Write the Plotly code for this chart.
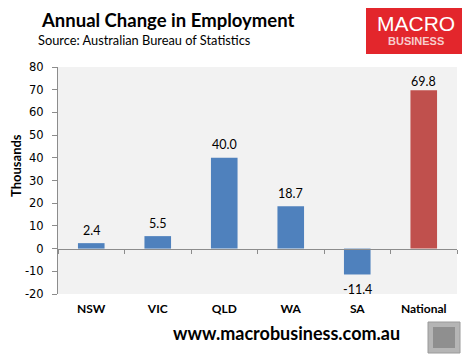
import plotly.graph_objects as go

categories = ["NSW", "VIC", "QLD", "WA", "SA", "National"]
values = [2.4, 5.5, 40.0, 18.7, -11.4, 69.8]
bar_colors = ["#4f81bd"] * 5 + ["#c0504d"]
tick_vals = [-20, -10, 0, 10, 20, 30, 40, 50, 60, 70, 80]
tick_text = [str(v) for v in tick_vals]  # hyphen-minus like the source
y_min, y_max = -20, 80

# browser body margin shifts the figure by 8px
OFF = 8
FW, FH = 470 - OFF, 363 - OFF
L, R, T, B = 50, 13, 59, 69
PW, PH = FW - L - R, FH - T - B


def px(sx):
    return (sx - OFF - L) / PW


def py(sy):
    return (FH - B - (sy - OFF)) / PH


unit = PH / (y_max - y_min)

fig = go.Figure()
fig.add_trace(go.Bar(
    x=categories, y=values, marker=dict(color=bar_colors, line=dict(width=0)),
    width=0.4, hoverinfo="x+y",
))
# invisible helper trace for the zero-line axis with boundary ticks
fig.add_trace(go.Scatter(
    x=categories, y=values, xaxis="x2", mode="markers",
    marker=dict(opacity=0), hoverinfo="skip", showlegend=False,
))

annotations = []
for c, v in zip(categories, values):
    if v >= 0:
        shift = min(13, (y_max - v) * unit - 15)
    else:
        shift = -15
    annotations.append(dict(
        x=c, y=v, xref="x", yref="y", text=f"{v:.1f}", showarrow=False,
        yshift=shift, xanchor="center", yanchor="middle",
        font=dict(family="Lato, sans-serif", size=12.5, color="#000"),
    ))

annotations += [
    dict(text="<b>Annual Change in Employment</b>", xref="paper", yref="paper",
         x=px(39), y=py(20), xanchor="left", yanchor="middle",
         showarrow=False, font=dict(family="Lato, sans-serif", size=18.5, color="#000")),
    dict(text="Source: Australian Bureau of Statistics", xref="paper", yref="paper",
         x=px(36), y=py(40), xanchor="left", yanchor="middle",
         showarrow=False, font=dict(family="Lato, sans-serif", size=12.8, color="#000")),
    dict(text="MACRO", xref="paper", yref="paper",
         x=px(416), y=py(23), xanchor="center", yanchor="middle",
         showarrow=False, font=dict(family="Liberation Sans, sans-serif", size=21, color="#ffffff")),
    dict(text="BUSINESS", xref="paper", yref="paper",
         x=px(416), y=py(41), xanchor="center", yanchor="middle",
         showarrow=False, font=dict(family="Liberation Sans, sans-serif", size=11, color="#f7cccc", weight="bold")),
    dict(text="<b>www.macrobusiness.com.au</b>", xref="paper", yref="paper",
         x=px(286), y=py(333), xanchor="center", yanchor="middle",
         showarrow=False, font=dict(family="Lato, sans-serif", size=18, color="#000")),
    dict(text="<b>Thousands</b>", xref="paper", yref="paper",
         x=px(16), y=py(166), xanchor="center", yanchor="middle", textangle=-90,
         showarrow=False, font=dict(family="Lato, sans-serif", size=13, color="#000")),
]

fig.update_layout(
    width=FW, height=FH,
    margin=dict(l=L, r=R, t=T, b=B),
    paper_bgcolor="white", plot_bgcolor="#f2f2f2",
    showlegend=False,
    font=dict(family="Lato, sans-serif", color="#000"),
    xaxis=dict(
        showline=False, ticks="", showgrid=False,
        tickfont=dict(family="Lato, sans-serif", size=12, color="#000", weight="bold"),
        ticklabelstandoff=6,
    ),
    xaxis2=dict(
        overlaying="x", matches="x", anchor="free",
        position=(0 - y_min) / (y_max - y_min),
        showticklabels=False, showgrid=False, tickson="boundaries",
        ticks="outside", ticklen=4, tickcolor="#8c8c8c",
        showline=True, linecolor="#8c8c8c", linewidth=1,
    ),
    yaxis=dict(
        range=[y_min, y_max], tickvals=tick_vals, ticktext=tick_text,
        showgrid=False, zeroline=False,
        showline=True, linecolor="#8c8c8c", ticks="outside", ticklen=5, tickcolor="#8c8c8c",
        tickfont=dict(family="DejaVu Sans, sans-serif", size=11.5, color="#000"),
        ticklabelstandoff=6,
    ),
    shapes=[
        # logo box
        dict(type="rect", xref="paper", yref="paper",
             x0=px(366), x1=px(467), y0=py(54), y1=py(5),
             line=dict(width=0), fillcolor="#e3262c", layer="above"),
        # fox icon box
        dict(type="rect", xref="paper", yref="paper",
             x0=px(428), x1=px(460), y0=py(353), y1=py(322),
             line=dict(color="#9a9a9a", width=1), fillcolor="#b5b5b5", layer="above"),
        dict(type="rect", xref="paper", yref="paper",
             x0=px(433), x1=px(455), y0=py(348), y1=py(327),
             line=dict(width=0), fillcolor="#8f8f8f", layer="above"),
    ],
    annotations=annotations,
)

fig.write_html("out.html")
